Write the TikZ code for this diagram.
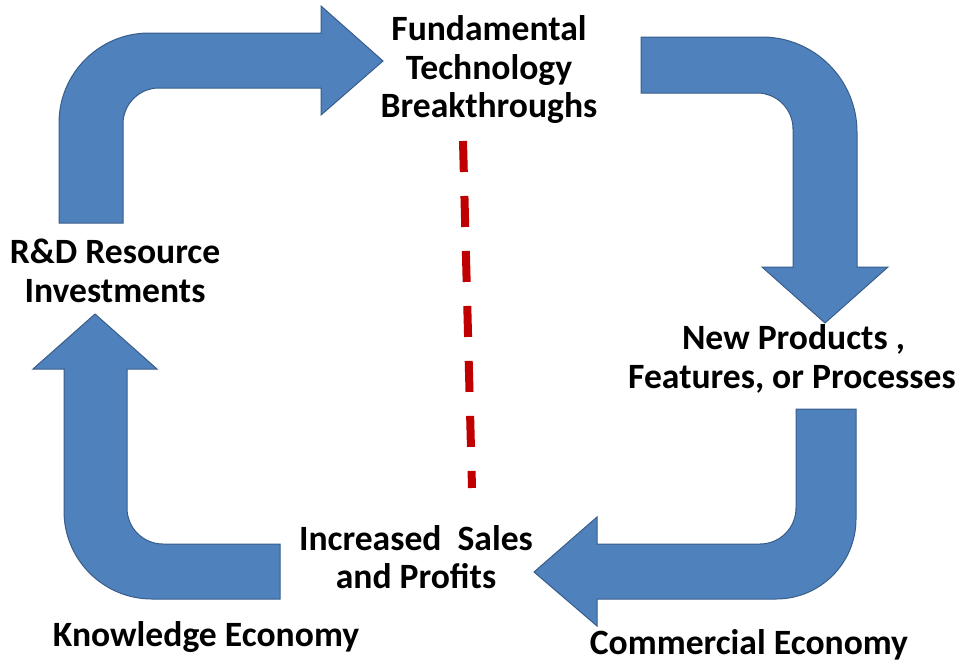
\documentclass[tikz,border=0pt]{standalone}
\usepackage{fontspec}
\setmainfont{Carlito}
\begin{document}
\begin{tikzpicture}[x=1pt,y=-1pt,
  bigarrow/.style={fill=arrowblue,draw=arrowedge,line width=1pt,line join=miter},
  label/.style={inner sep=0pt,align=center,font=\bfseries\fontsize{35.6}{38.5}\selectfont,text=black},
  divider/.style={draw=divred,line width=8pt,dash pattern=on 31pt off 24pt}]
\definecolor{arrowblue}{HTML}{4F81BD}
\definecolor{arrowedge}{HTML}{385D8A}
\definecolor{divred}{HTML}{C00000}
\useasboundingbox (0,0) rectangle (960,662);
% top-left arrow
\path[bigarrow] (59,223) -- (59,123) .. controls (59,73.3) and (99.3,33) .. (149,33) -- (321,33) -- (321,6) -- (383,61) -- (321,115) -- (321,88) -- (159,88) .. controls (139.1,88) and (123,104.1) .. (123,124) -- (123,223) -- cycle;
% top-right arrow
\path[bigarrow] (641,37) -- (762,37) .. controls (814.4,37) and (857,79.6) .. (857,132) -- (857,267) -- (888,267) -- (825,323) -- (762,267) -- (793,267) -- (793,129) .. controls (793,109.1) and (776.9,93) .. (757,93) -- (641,93) -- cycle;
% bottom-right arrow
\path[bigarrow] (796,409) -- (856,409) -- (856,519) .. controls (856,563.2) and (820.2,599) .. (776,599) -- (597,599) -- (597,626) -- (534,572) -- (597,517) -- (597,544) -- (760,544) .. controls (779.9,544) and (796,527.9) .. (796,508) -- cycle;
% bottom-left arrow
\path[bigarrow] (280,544) -- (280,599) -- (152,599) .. controls (103.4,599) and (64,559.6) .. (64,511) -- (64,369) -- (33,369) -- (95,314) -- (157,369) -- (127,369) -- (127,508) .. controls (127,527.9) and (143.1,544) .. (163,544) -- cycle;
% dashed divider
\coordinate (dtop) at (463,141);
\coordinate (dbot) at (472,488);
\draw[divider] (dtop) -- (dbot);
% labels
\node[label] (ftb) at (489,70) {Fundamental\\Technology\\Breakthroughs};
\node[label] (rd) at (115,271) {R\&D Resource\\Investments};
\node[label] (np) at (792,359) {\hspace*{3pt}New Products ,\\Features, or Processes};
\node[label] (isp) at (416,557) {Increased\ \ Sales\\and Profits};
\node[label] (ke) at (206,637) {Knowledge Economy};
\node[label] (ce) at (749,645) {Commercial Economy};
\end{tikzpicture}
\end{document}
